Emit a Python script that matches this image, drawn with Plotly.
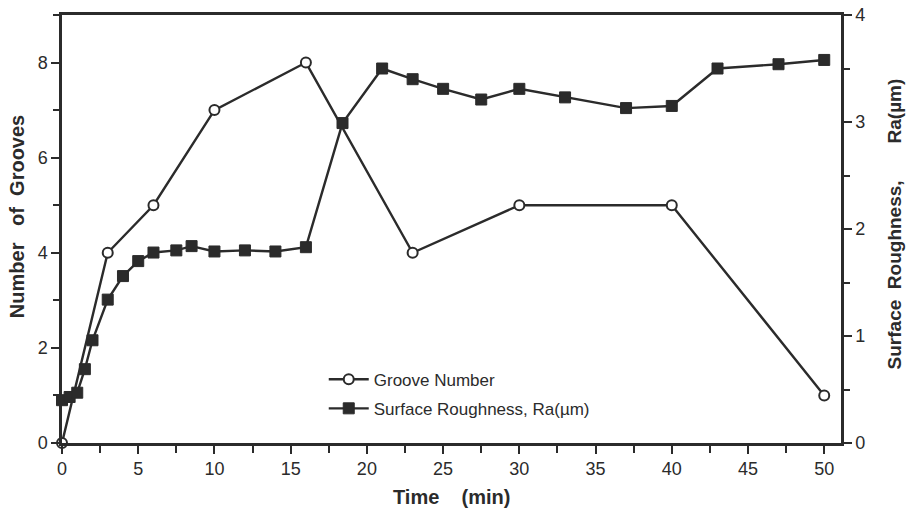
import plotly.graph_objects as go

# Groove number (left axis)
groove_time = [0, 3, 6, 10, 16, 23, 30, 40, 50]
groove_count = [0, 4, 5, 7, 8, 4, 5, 5, 1]

# Surface roughness Ra (right axis, µm)
rough_time = [0, 0.5, 1, 1.5, 2, 3, 4, 5, 6, 7.5, 8.5, 10, 12, 14, 16,
              18.4, 21, 23, 25, 27.5, 30, 33, 37, 40, 43, 47, 50]
rough_ra = [0.40, 0.43, 0.47, 0.69, 0.96, 1.34, 1.56, 1.70, 1.78, 1.80, 1.84,
            1.79, 1.80, 1.79, 1.83, 2.99, 3.50, 3.40, 3.31, 3.21, 3.31, 3.23,
            3.13, 3.15, 3.50, 3.54, 3.58]

x_ticks = [0, 5, 10, 15, 20, 25, 30, 35, 40, 45, 50]
left_ticks = [0, 2, 4, 6, 8]
right_ticks = [0, 1, 2, 3, 4]

x_title = "Time" + "&nbsp;" * 4 + "(min)"
left_title = "Number" + "&nbsp;" * 3 + "of" + "&nbsp;" * 2 + "Grooves"
right_title = "Surface" + "&nbsp;" * 2 + "Roughness," + "&nbsp;" * 7 + "Ra(\u00b5m)"

INK = "#2b2b2b"
FONT = "Liberation Sans, Arial, sans-serif"

fig = go.Figure()
fig.add_trace(go.Scatter(
    x=groove_time, y=groove_count, name="Groove Number",
    mode="lines+markers", legendgroup="g1",
    line=dict(color=INK, width=2.4),
    marker=dict(symbol="circle", size=10, color="white",
                line=dict(color=INK, width=2)),
    yaxis="y", cliponaxis=False,
))
fig.add_trace(go.Scatter(
    x=rough_time, y=rough_ra, name="Surface Roughness, Ra(\u00b5m)",
    mode="lines+markers", legendgroup="g2",
    line=dict(color=INK, width=2.4),
    marker=dict(symbol="square", size=11, color=INK,
                line=dict(color=INK, width=1)),
    yaxis="y2", cliponaxis=False,
))

tickfont = dict(family=FONT, size=18, color=INK)
titlefont = dict(family=FONT, size=20, color=INK, weight="bold")
rtitlefont = dict(family=FONT, size=19, color=INK, weight="bold")

axis_common = dict(
    ticks="outside", ticklen=8, tickwidth=2, tickcolor=INK,
    showline=True, linecolor=INK, linewidth=2.5,
    showgrid=False, zeroline=False, tickfont=tickfont, automargin=False,
)

fig.update_layout(
    width=907, height=514,
    margin=dict(l=62, r=66, t=15, b=71),
    paper_bgcolor="white", plot_bgcolor="white",
    showlegend=True,
    legend=dict(x=0.336, y=0.19, xanchor="left", yanchor="top",
                bgcolor="rgba(0,0,0,0)", traceorder="grouped",
                font=dict(family=FONT, size=17, color=INK),
                tracegroupgap=4, itemwidth=40),
    xaxis=dict(
        range=[0, 51.1], tickvals=x_ticks, ticktext=[str(v) for v in x_ticks],
        minor=dict(dtick=2.5, tick0=0, ticks="outside", ticklen=7, tickwidth=2, tickcolor=INK),
        mirror=True, **axis_common,
    ),
    yaxis=dict(
        range=[0, 9], tickvals=left_ticks, ticktext=[str(v) for v in left_ticks],
        minor=dict(dtick=1, tick0=0, ticks="outside", ticklen=6, tickwidth=2, tickcolor=INK),
        **axis_common,
    ),
    yaxis2=dict(
        range=[0, 4], tickvals=right_ticks, ticktext=[str(v) for v in right_ticks],
        overlaying="y", side="right",
        minor=dict(dtick=0.5, tick0=0, ticks="outside", ticklen=6, tickwidth=2, tickcolor=INK),
        **axis_common,
    ),
    annotations=[
        dict(text=x_title, xref="paper", yref="paper", x=0.5006, y=-0.126,
             xanchor="center", yanchor="middle", showarrow=False, font=titlefont),
        dict(text=left_title, xref="paper", yref="paper", x=-0.0578, y=0.53,
             xanchor="center", yanchor="middle", textangle=-90, showarrow=False, font=titlefont),
        dict(text=right_title, xref="paper", yref="paper", x=1.068, y=0.513,
             xanchor="center", yanchor="middle", textangle=-90, showarrow=False, font=rtitlefont),
    ],
)

fig.write_html("out.html", config={"displayModeBar": False},
               post_script="document.body.style.margin='0';")
